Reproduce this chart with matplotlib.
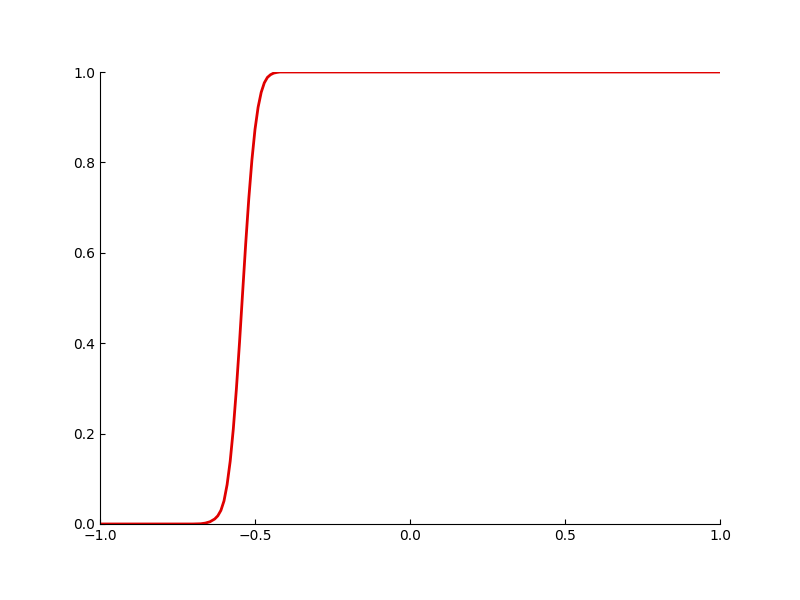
import numpy as np
import matplotlib
matplotlib.use("Agg")
import matplotlib.pyplot as plt

# points
xs = [-1.0, -0.70, -0.675, -0.66, -0.645, -0.63, -0.62, -0.61, -0.60, -0.59,
      -0.58, -0.57, -0.56, -0.55, -0.54, -0.53, -0.52, -0.51, -0.50,
      -0.49, -0.48, -0.47, -0.46, -0.45, -0.44, -0.43, -0.42, -0.40, 1.0]
ys = [0.0, 0.0, 0.0005, 0.002, 0.005, 0.011, 0.018, 0.030, 0.051, 0.087,
      0.139, 0.210, 0.299, 0.401, 0.511, 0.620, 0.720, 0.805, 0.873,
      0.922, 0.955, 0.976, 0.988, 0.994, 0.9975, 0.999, 1.0, 1.0, 1.0]

fig = plt.figure(figsize=(8, 6), dpi=100)
ax = fig.add_axes([0.125, 0.1267, 0.775, 0.7533])
ax.plot(xs, ys, color='#e00000', lw=2)
ax.set_xlim(-1, 1)
ax.set_ylim(0, 1)
ax.set_xticks([-1.0, -0.5, 0.0, 0.5, 1.0])
ax.set_yticks([0.0, 0.2, 0.4, 0.6, 0.8, 1.0])
ax.spines['top'].set_visible(False)
ax.spines['right'].set_visible(False)
ax.tick_params(direction='in', top=False, right=False)

fig.savefig('out.png')
